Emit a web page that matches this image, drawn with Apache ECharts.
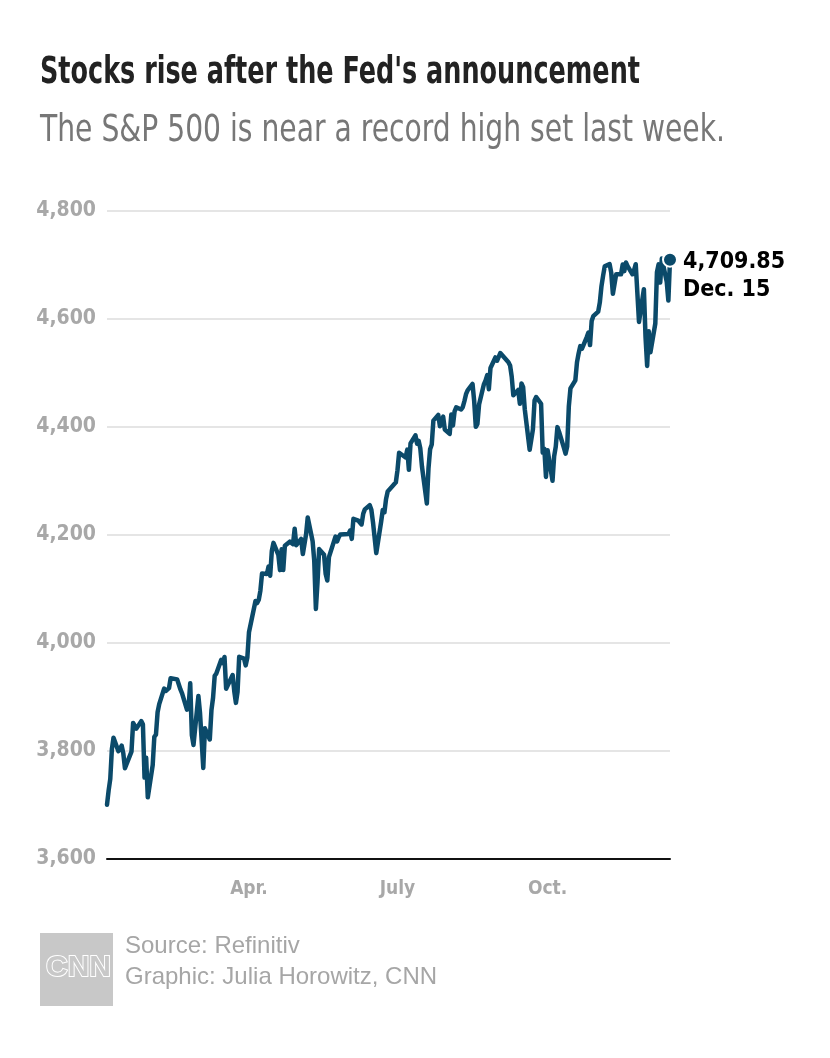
<!DOCTYPE html>
<html><head><meta charset="utf-8">
<script src="https://cdn.jsdelivr.net/npm/echarts@6/dist/echarts.min.js"></script>
<style>html,body{margin:0;padding:0;background:#fff}#c{width:830px;height:1058px}</style>
</head><body><div id="c"></div>
<script>
// ---- DATA ----
const dates = [
'01-04','01-05','01-06','01-07','01-08','01-11','01-12','01-13','01-14','01-15','01-19','01-20','01-21','01-22','01-25','01-26','01-27','01-28','01-29',
'02-01','02-02','02-03','02-04','02-05','02-08','02-09','02-10','02-11','02-12','02-16','02-17','02-18','02-19','02-22','02-23','02-24','02-25','02-26',
'03-01','03-02','03-03','03-04','03-05','03-08','03-09','03-10','03-11','03-12','03-15','03-16','03-17','03-18','03-19','03-22','03-23','03-24','03-25','03-26','03-29','03-30','03-31',
'04-01','04-05','04-06','04-07','04-08','04-09','04-12','04-13','04-14','04-15','04-16','04-19','04-20','04-21','04-22','04-23','04-26','04-27','04-28','04-29','04-30',
'05-03','05-04','05-05','05-06','05-07','05-10','05-11','05-12','05-13','05-14','05-17','05-18','05-19','05-20','05-21','05-24','05-25','05-26','05-27','05-28',
'06-01','06-02','06-03','06-04','06-07','06-08','06-09','06-10','06-11','06-14','06-15','06-16','06-17','06-18','06-21','06-22','06-23','06-24','06-25','06-28','06-29','06-30',
'07-01','07-02','07-06','07-07','07-08','07-09','07-12','07-13','07-14','07-15','07-16','07-19','07-20','07-21','07-22','07-23','07-26','07-27','07-28','07-29','07-30',
'08-02','08-03','08-04','08-05','08-06','08-09','08-10','08-11','08-12','08-13','08-16','08-17','08-18','08-19','08-20','08-23','08-24','08-25','08-26','08-27','08-30','08-31',
'09-01','09-02','09-03','09-07','09-08','09-09','09-10','09-13','09-14','09-15','09-16','09-17','09-20','09-21','09-22','09-23','09-24','09-27','09-28','09-29','09-30',
'10-01','10-04','10-05','10-06','10-07','10-08','10-11','10-12','10-13','10-14','10-15','10-18','10-19','10-20','10-21','10-22','10-25','10-26','10-27','10-28','10-29',
'11-01','11-02','11-03','11-04','11-05','11-08','11-09','11-10','11-11','11-12','11-15','11-16','11-17','11-18','11-19','11-22','11-23','11-24','11-26','11-29','11-30',
'12-01','12-02','12-03','12-06','12-07','12-08','12-09','12-10','12-13','12-14','12-15'
];
const closes = [
3700.65,3726.86,3748.14,3803.79,3824.68,3799.61,3801.19,3809.84,3795.54,3768.25,3798.91,3851.85,3853.07,3841.47,3855.36,3849.62,3750.77,3787.38,3714.24,
3773.86,3826.31,3830.17,3871.74,3886.83,3915.59,3911.23,3909.88,3916.38,3934.83,3932.59,3931.33,3913.97,3906.71,3876.50,3881.37,3925.43,3829.34,3811.15,
3901.82,3870.29,3819.72,3768.47,3841.94,3821.35,3875.44,3898.81,3939.34,3943.34,3968.94,3962.71,3974.12,3915.46,3913.10,3940.59,3910.52,3889.14,3909.52,3974.54,3971.09,3958.55,3972.89,
4019.87,4077.91,4073.94,4079.95,4097.17,4128.80,4127.99,4141.59,4124.66,4170.42,4185.47,4163.26,4134.94,4173.42,4134.98,4180.17,4187.62,4186.72,4183.18,4211.47,4181.17,
4192.66,4164.66,4167.59,4201.62,4232.60,4188.43,4152.10,4063.04,4112.50,4173.85,4163.29,4127.83,4115.68,4159.12,4155.86,4197.05,4188.13,4195.99,4200.88,4204.11,
4202.04,4208.12,4192.85,4229.89,4226.52,4227.26,4219.55,4239.18,4247.44,4255.15,4246.59,4223.70,4221.86,4166.45,4224.79,4246.44,4241.84,4266.49,4280.70,4290.61,4291.80,4297.50,
4319.94,4352.34,4343.54,4358.13,4320.82,4369.55,4384.63,4369.21,4374.30,4360.03,4327.16,4258.49,4323.06,4358.69,4367.48,4411.79,4422.30,4401.46,4400.64,4419.15,4395.26,
4387.16,4423.15,4402.66,4429.10,4436.52,4432.35,4436.75,4447.70,4460.83,4468.00,4479.71,4448.08,4400.27,4405.80,4441.67,4479.53,4486.23,4496.19,4470.00,4509.37,4528.79,4522.68,
4524.09,4536.95,4535.43,4520.03,4514.07,4493.28,4458.58,4468.73,4443.05,4480.70,4473.75,4432.99,4357.73,4354.19,4395.64,4448.98,4455.48,4443.11,4352.63,4359.46,4307.54,
4357.04,4300.46,4345.72,4363.55,4399.76,4391.34,4361.19,4350.65,4363.80,4438.26,4471.37,4486.46,4519.63,4536.19,4549.78,4544.90,4566.48,4574.79,4551.68,4596.42,4605.38,
4613.67,4630.65,4660.57,4680.06,4697.53,4701.70,4685.25,4646.71,4649.27,4682.85,4682.80,4700.90,4688.67,4704.54,4697.96,4682.94,4690.70,4701.46,4594.62,4655.27,4567.00,
4513.04,4577.10,4538.43,4591.67,4686.75,4701.21,4667.45,4712.02,4668.97,4634.09,4709.85
];
const year = 2021;
const yMin = 3600, yMax = 4800, yStep = 200;
const xTickDates = ['04-01','07-01','10-01'];
const xTickLabels = ['Apr.','July','Oct.'];
const endValueLabel = '4,709.85';
const endDateLabel = 'Dec. 15';
const titleText = "Stocks rise after the Fed's announcement";
const subtitleText = 'The S&P 500 is near a record high set last week.';
const sourceLines = ['Source: Refinitiv', 'Graphic: Julia Horowitz, CNN'];

// ---- BUILD ----
const ts = d => Date.UTC(year, +d.slice(0,2)-1, +d.slice(3,5));
const seriesData = dates.map((d,i) => [ts(d), closes[i]]);
const tickTs = xTickDates.map(ts);
const tickMap = {}; tickTs.forEach((t,i)=>tickMap[t]=xTickLabels[i]);
const last = seriesData[seriesData.length-1];

const NARROW = "'DejaVu Sans Condensed','Liberation Sans Narrow',sans-serif";
const LINE = '#0b4a6a';
const ctx = document.createElement('canvas').getContext('2d');
function fitScale(text, font, target){ ctx.font = font; return target / ctx.measureText(text).width; }
const titleFont = "bold 37px " + NARROW;
const subFont = "37px " + NARROW;
const titleScale = fitScale(titleText, titleFont, 600);
const subScale = fitScale(subtitleText, subFont, 685);

const chart = echarts.init(document.getElementById('c'), null, {renderer:'canvas'});
chart.setOption({
  animation:false,
  backgroundColor:'#fff',
  grid:{left:107, right:160, top:211, bottom:199, containLabel:false},
  xAxis:{
    type:'value', min:seriesData[0][0], max:last[0],
    axisLine:{show:true, onZero:false, lineStyle:{color:'#111', width:2}},
    axisTick:{show:false},
    splitLine:{show:false},
    axisLabel:{
      customValues: tickTs,
      formatter: v => tickMap[v] || '',
      color:'#a8a8a8', fontFamily:NARROW, fontWeight:'bold', fontSize:19, margin:21
    }
  },
  yAxis:{
    type:'value', min:yMin, max:yMax, interval:yStep,
    axisLine:{show:false}, axisTick:{show:false},
    splitLine:{lineStyle:{color:'#dcdcdc', width:1.5}},
    axisLabel:{
      formatter: v => v.toLocaleString('en-US'),
      color:'#a8a8a8', fontFamily:NARROW, fontWeight:'bold', fontSize:21, margin:11
    }
  },
  series:[
    {type:'line', data:seriesData, showSymbol:false, smooth:false,
     lineStyle:{color:LINE, width:4.5, join:'round', cap:'round'}, z:3},
    {type:'scatter', data:[last], symbolSize:14, z:4,
     itemStyle:{color:LINE, borderColor:'#fff', borderWidth:2, opacity:1},
     label:{show:true, position:'right', distance:5, offset:[0,16], opacity:1,
       formatter: () => '{a|'+endValueLabel+'}\n{b|'+endDateLabel+'}',
       rich:{
         a:{fontFamily:NARROW, fontWeight:'bold', fontSize:23, color:'#000', lineHeight:28},
         b:{fontFamily:NARROW, fontWeight:'bold', fontSize:23, color:'#000', lineHeight:28}
       }}
    }
  ],
  graphic:[
    {type:'text', x:40, y:55, scaleX:titleScale, style:{text:titleText, font:titleFont, fill:'#222', textVerticalAlign:'top'}},
    {type:'text', x:40, y:113, scaleX:subScale, style:{text:subtitleText, font:subFont, fill:'#777', textVerticalAlign:'top'}},
    {type:'rect', x:40, y:933, shape:{width:73, height:73}, style:{fill:'#c8c8c8'}},
    {type:'text', x:46, y:953, style:{text:'CNN', font:"bold 30px 'Liberation Sans',sans-serif", fill:'#c8c8c8', stroke:'#fff', lineWidth:2, textVerticalAlign:'top'}},
    {type:'text', x:125, y:934, style:{text:sourceLines[0], font:"24px 'Liberation Sans',sans-serif", fill:'#a6a6a6', textVerticalAlign:'top'}},
    {type:'text', x:125, y:965, style:{text:sourceLines[1], font:"24px 'Liberation Sans',sans-serif", fill:'#a6a6a6', textVerticalAlign:'top'}}
  ]
});
</script></body></html>
